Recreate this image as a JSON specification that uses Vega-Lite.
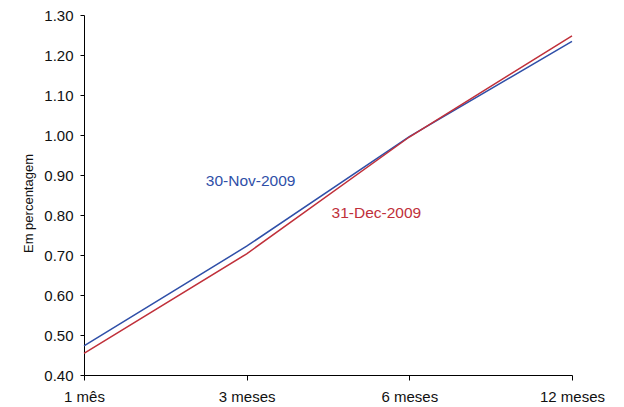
{
  "$schema": "https://vega.github.io/schema/vega-lite/v6.json",
  "width": 488,
  "height": 360,
  "autosize": {"type": "none"},
  "padding": {"left": 84, "top": 15, "right": 52, "bottom": 32},
  "background": "white",
  "config": {
    "view": {"stroke": null},
    "font": "Liberation Sans",
    "axis": {"grid": false, "domainColor": "black", "tickColor": "black", "labelColor": "#111", "titleColor": "#111", "labelFont": "Liberation Sans", "titleFont": "Liberation Sans", "labelOverlap": false}
  },
  "data": {
    "values": [
      {"prazo": "1 mês", "serie": "30-Nov-2009", "valor": 0.473},
      {"prazo": "3 meses", "serie": "30-Nov-2009", "valor": 0.722},
      {"prazo": "6 meses", "serie": "30-Nov-2009", "valor": 0.996},
      {"prazo": "12 meses", "serie": "30-Nov-2009", "valor": 1.234},
      {"prazo": "1 mês", "serie": "31-Dec-2009", "valor": 0.454},
      {"prazo": "3 meses", "serie": "31-Dec-2009", "valor": 0.703},
      {"prazo": "6 meses", "serie": "31-Dec-2009", "valor": 0.995},
      {"prazo": "12 meses", "serie": "31-Dec-2009", "valor": 1.248}
    ]
  },
  "layer": [
    {
      "mark": {"type": "line", "strokeWidth": 1.5},
      "encoding": {
        "x": {
          "field": "prazo", "type": "ordinal",
          "sort": ["1 mês", "3 meses", "6 meses", "12 meses"],
          "scale": {"type": "point", "padding": 0},
          "axis": {"title": null, "labelAngle": 0, "labelFontSize": 15, "labelPadding": 9, "tickSize": 5, "domainWidth": 1, "labelOverlap": false, "labelBound": false}
        },
        "y": {
          "field": "valor", "type": "quantitative",
          "scale": {"domain": [0.4, 1.3], "nice": false, "zero": false},
          "axis": {"title": "Em percentagem", "values": [0.4, 0.5, 0.6, 0.7, 0.8, 0.9, 1.0, 1.1, 1.2, 1.3], "format": ".2f", "labelFontSize": 15, "labelPadding": 7, "tickSize": 4, "titleFontSize": 13, "titleFontWeight": "normal", "titlePadding": 8, "titleY": 188, "labelOverlap": false, "labelFlush": false}
        },
        "color": {
          "field": "serie", "type": "nominal",
          "scale": {"domain": ["30-Nov-2009", "31-Dec-2009"], "range": ["#2F4FA8", "#C0303A"]},
          "legend": null
        }
      }
    },
    {
      "data": {"values": [{"serie": "30-Nov-2009"}]},
      "mark": {"type": "text", "text": "30-Nov-2009", "fontSize": 15.5, "dx": 4, "baseline": "middle", "color": "#2F4FA8"},
      "encoding": {
        "x": {"datum": "3 meses", "type": "ordinal", "axis": {"title": null, "labelAngle": 0, "labelFontSize": 15, "labelPadding": 9, "tickSize": 5, "domainWidth": 1, "labelOverlap": false, "labelBound": false}},
        "y": {"datum": 0.884, "type": "quantitative", "axis": {"title": "Em percentagem", "values": [0.4, 0.5, 0.6, 0.7, 0.8, 0.9, 1.0, 1.1, 1.2, 1.3], "format": ".2f", "labelFontSize": 15, "labelPadding": 7, "tickSize": 4, "titleFontSize": 13, "titleFontWeight": "normal", "titlePadding": 8, "titleY": 188, "labelOverlap": false, "labelFlush": false}}
      }
    },
    {
      "data": {"values": [{"serie": "31-Dec-2009"}]},
      "mark": {"type": "text", "text": "31-Dec-2009", "fontSize": 15.5, "dx": -33, "baseline": "middle", "color": "#C0303A"},
      "encoding": {
        "x": {"datum": "6 meses", "type": "ordinal", "axis": {"title": null, "labelAngle": 0, "labelFontSize": 15, "labelPadding": 9, "tickSize": 5, "domainWidth": 1, "labelOverlap": false, "labelBound": false}},
        "y": {"datum": 0.806, "type": "quantitative", "axis": {"title": "Em percentagem", "values": [0.4, 0.5, 0.6, 0.7, 0.8, 0.9, 1.0, 1.1, 1.2, 1.3], "format": ".2f", "labelFontSize": 15, "labelPadding": 7, "tickSize": 4, "titleFontSize": 13, "titleFontWeight": "normal", "titlePadding": 8, "titleY": 188, "labelOverlap": false, "labelFlush": false}}
      }
    }
  ]
}
